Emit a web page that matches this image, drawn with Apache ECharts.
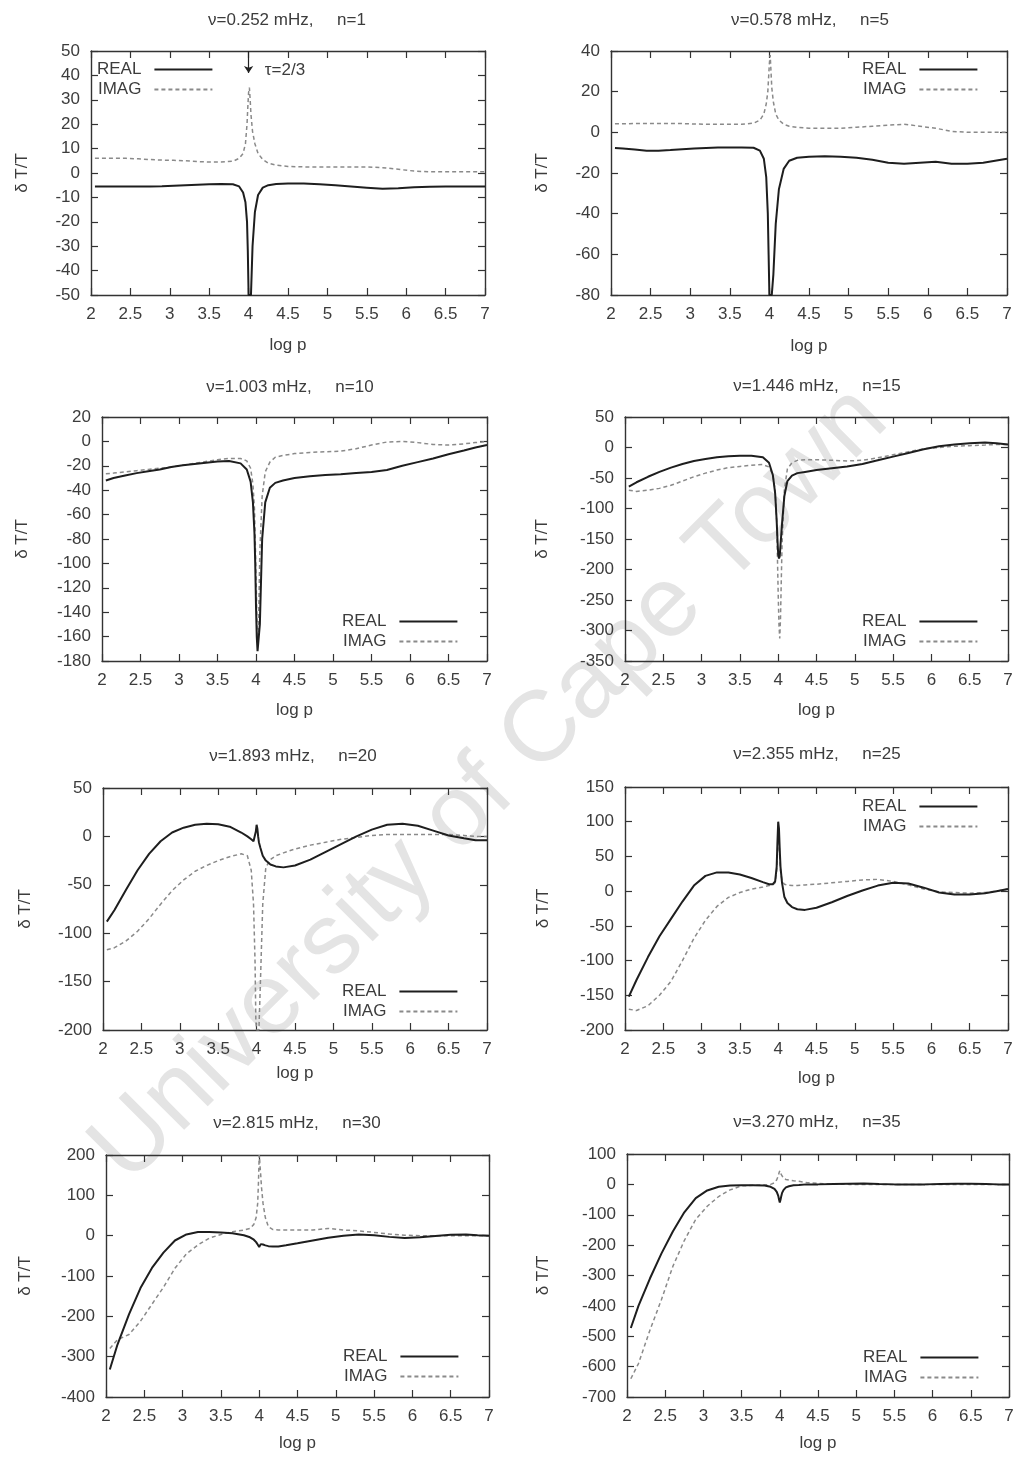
<!DOCTYPE html>
<html><head><meta charset="utf-8">
<script src="https://cdn.jsdelivr.net/npm/echarts@6/dist/echarts.min.js"></script>
<style>html,body{margin:0;padding:0;background:#fff}#c{width:1021px;height:1460px}</style>
</head><body><div id="c"></div>
<script>
// ---------------- DATA ----------------
const logP = [2.05, 2.15, 2.3, 2.45, 2.6, 2.75, 2.9, 3.05, 3.2, 3.35, 3.5, 3.65, 3.8, 3.88, 3.93, 3.96, 3.98, 3.99, 4.0, 4.01, 4.02, 4.03, 4.05, 4.08, 4.12, 4.18, 4.25, 4.35, 4.5, 4.7, 4.9, 5.1, 5.3, 5.5, 5.7, 5.9, 6.1, 6.3, 6.5, 6.7, 6.85, 7.0];

const real_n1 = [-5.5,-5.5,-5.5,-5.5,-5.5,-5.5,-5.4,-5.2,-5,-4.8,-4.6,-4.5,-4.6,-5.5,-8,-12,-20,-32,-50,-50,-50,-50,-30,-16,-9,-6,-5,-4.5,-4.3,-4.3,-4.6,-5,-5.5,-6,-6.5,-6.2,-5.8,-5.6,-5.5,-5.5,-5.5,-5.5];
const imag_n1 = [6,6,6,6,5.8,5.5,5.3,5.2,5,4.7,4.5,4.5,4.8,6,8,12,20,27,33,35,30,24,17,12,8,5.5,4,3.2,2.7,2.5,2.5,2.5,2.5,2.5,2.2,1.5,0.8,0.5,0.5,0.5,0.5,0.5];

const real_n5 = [-7.7,-8,-8.5,-9,-9,-8.7,-8.3,-8,-7.7,-7.5,-7.4,-7.4,-7.6,-9,-13,-22,-40,-60,-80,-80,-80,-80,-70,-45,-28,-18,-14,-12.5,-12,-11.8,-12,-12.5,-13.5,-15,-15.5,-15,-14.5,-15.5,-15.5,-15,-14,-13];
const imag_n5 = [4.2,4.2,4.3,4.3,4.4,4.4,4.3,4.1,4,4,4,4,4.5,6,9,14,20,27,34,38,30,22,15,9,6,4,3,2.5,2,2,2,2.5,3,3.5,4,3,2,0.5,0,0,0,0];

const real_n10 = [-32,-30,-28,-26,-24.5,-23,-21,-19.5,-18.5,-17.5,-16.5,-16,-18,-23,-33,-50,-75,-100,-135,-160,-172,-172,-150,-80,-50,-38,-34,-32,-30,-28.5,-27.5,-27,-26,-25,-23.5,-20,-17,-14,-10.5,-7.5,-5,-3];
const imag_n10 = [-26.5,-26,-25,-24,-23,-22,-21,-19.5,-18,-16.5,-15,-14,-14,-16,-22,-35,-55,-80,-110,-140,-165,-160,-90,-45,-25,-17,-13,-11.5,-10,-9,-8.5,-8,-6,-3,-0.5,0,-1,-2.5,-3,-2,-1,0];

const real_n15 = [-64,-57,-48,-40,-33,-27,-22,-19,-16,-14.5,-13.5,-13.5,-16,-25,-45,-75,-120,-150,-175,-182,-178,-160,-125,-80,-55,-46,-42,-40,-37,-34,-31,-27,-21,-15,-9,-3,2,5,7,8,7,5];
const imag_n15 = [-70,-72,-70,-67,-62,-55,-48,-42,-37,-33,-31,-29,-28,-32,-45,-70,-120,-180,-240,-290,-313,-280,-160,-70,-35,-25,-21,-20,-20,-21,-22,-21,-17,-12,-7,-2,0,2,3,4,5,5];

const real_n20 = [-88,-76,-55,-35,-18,-5,4,9,12,13,12.5,10,4,0,-3,-5,-3,5,12,8,0,-6,-12,-20,-25,-29,-31,-32,-30,-24,-16,-8,0,7,12,13,11,6,1,-2,-4,-4];
const imag_n20 = [-117,-115,-108,-98,-85,-70,-56,-45,-36,-30,-25,-21,-18,-20,-35,-70,-130,-190,-200,-200,-200,-200,-150,-70,-32,-24,-20,-17,-13,-9,-6,-3,-1,1,2,2,2,2,2,1,0,0];

const real_n25 = [-152,-128,-95,-65,-40,-15,8,22,27,27,24,19,13,10,10,14,35,70,100,90,60,35,12,-8,-17,-23,-26,-27,-24,-16,-7,1,8,12,11,5,-2,-5,-5,-3,0,3];
const imag_n25 = [-170,-172,-165,-150,-130,-100,-68,-42,-22,-9,-2,3,6,8,9,12,30,55,80,75,50,30,15,10,9,8,8,9,10,12,14,16,17,14,9,3,-1,-2,-3,-2,0,3];

const real_n30 = [-332,-270,-195,-130,-80,-42,-12,3,9,9,8,6,1,-4,-10,-16,-22,-26,-28,-24,-21,-21,-22,-24,-26,-27,-27,-24,-19,-12,-5,0,3,1,-3,-6,-4,-1,2,3,1,0];
const imag_n30 = [-280,-258,-245,-212,-170,-128,-81,-45,-23,-6,3,10,14,18,28,45,80,130,200,175,150,120,80,45,22,15,14,14,14,14,18,14,12,8,4,1,0,0,0,0,0,0];

const real_n35 = [-473,-400,-310,-228,-155,-92,-45,-20,-8,-4,-3,-3,-4,-8,-15,-25,-38,-50,-60,-50,-38,-28,-18,-10,-6,-3,-2,0,0,1,2,3,1,0,0,0,1,2,2,1,0,0];
const imag_n35 = [-640,-590,-480,-380,-270,-185,-115,-72,-40,-18,-5,-3,-2,0,5,15,28,38,45,40,32,26,20,16,14,12,10,6,3,1,0,0,0,0,0,0,0,0,0,0,0,0];

const titles = ['ν=0.252 mHz,     n=1', 'ν=0.578 mHz,     n=5', 'ν=1.003 mHz,     n=10', 'ν=1.446 mHz,     n=15',
                'ν=1.893 mHz,     n=20', 'ν=2.355 mHz,     n=25', 'ν=2.815 mHz,     n=30', 'ν=3.270 mHz,     n=35'];
const realSets = [real_n1, real_n5, real_n10, real_n15, real_n20, real_n25, real_n30, real_n35];
const imagSets = [imag_n1, imag_n5, imag_n10, imag_n15, imag_n20, imag_n25, imag_n30, imag_n35];
const yMin = [-50, -80, -180, -350, -200, -200, -400, -700];
const yMax = [50, 40, 20, 50, 50, 150, 200, 100];
const yStep = [10, 20, 20, 50, 50, 50, 100, 100];
const xMin = 2, xMax = 7, xStep = 0.5;
const seriesNames = ['REAL', 'IMAG'];
const xName = 'log p', yName = 'δ T/T';
const annotText = 'τ=2/3';
const watermark = 'University of Cape Town';

// ---------------- LAYOUT ----------------
const FONT = '"Liberation Sans", Arial, Helvetica, sans-serif';
const TXT = '#3c3c3c';
const layout = [
  {g:[91,51,394,244],  ty:21,  tx:287, xl:347,  yl:22,  lg:[97,61]},
  {g:[611,51,396,244], ty:21,  tx:810, xl:348,  yl:542, lg:[862,61]},
  {g:[102,417,385,244],ty:388, tx:290, xl:712,  yl:22,  lg:[342,613]},
  {g:[625,417,383,244],ty:387, tx:817, xl:712,  yl:542, lg:[862,613]},
  {g:[103,788,384,242],ty:757, tx:293, xl:1075, yl:25,  lg:[342,983]},
  {g:[625,787,383,243],ty:755, tx:817, xl:1080, yl:543, lg:[862,798]},
  {g:[106,1155,383,242],ty:1124,tx:297,xl:1445, yl:25,  lg:[343,1348]},
  {g:[627,1154,382,243],ty:1123,tx:817,xl:1445, yl:543, lg:[863,1349]}
];

const grid = [], xAxis = [], yAxis = [], series = [], title = [], legend = [];
const axisLine = {show:true, onZero:false, lineStyle:{color:'#333', width:1.4}};
const tick = {show:true, inside:true, length:7, lineStyle:{color:'#333', width:1.2}};
layout.forEach((L, i) => {
  grid.push({left:L.g[0], top:L.g[1], width:L.g[2], height:L.g[3], containLabel:false});
  const bottom = L.g[1] + L.g[3];
  xAxis.push({type:'value', gridIndex:i, min:xMin, max:xMax, interval:xStep, position:'bottom',
    axisLine, axisTick:tick, splitLine:{show:false},
    axisLabel:{color:TXT, fontSize:17, fontFamily:FONT, margin:11},
    name:xName, nameLocation:'middle', nameGap:L.xl - bottom - 10,
    nameTextStyle:{color:TXT, fontSize:17, fontFamily:FONT}});
  xAxis.push({type:'value', gridIndex:i, min:xMin, max:xMax, interval:xStep, position:'top',
    axisLine, axisTick:tick, axisLabel:{show:false}, splitLine:{show:false}});
  yAxis.push({type:'value', gridIndex:i, min:yMin[i], max:yMax[i], interval:yStep[i], position:'left',
    axisLine, axisTick:tick, splitLine:{show:false},
    axisLabel:{color:TXT, fontSize:17, fontFamily:FONT, margin:11},
    name:yName, nameLocation:'middle', nameRotate:90, nameGap:L.g[0] - L.yl - 9,
    nameTextStyle:{color:TXT, fontSize:17, fontFamily:FONT}});
  yAxis.push({type:'value', gridIndex:i, min:yMin[i], max:yMax[i], interval:yStep[i], position:'right',
    axisLine, axisTick:tick, axisLabel:{show:false}, splitLine:{show:false}});
  title.push({text:titles[i], left:L.tx, top:L.ty - 9, textAlign:'center', padding:0,
    textStyle:{color:TXT, fontSize:17, fontWeight:'normal', fontFamily:FONT}});
  legend.push({orient:'vertical', left:L.lg[0], top:L.lg[1], align:'right', itemWidth:58, itemHeight:14,
    itemGap:3, padding:0, selectedMode:false, data:seriesNames,
    itemStyle:{opacity:0},
    textStyle:{color:TXT, fontSize:17, fontFamily:FONT, padding:[0,8,0,0]}});
  const re = {name:seriesNames[0], type:'line', xAxisIndex:2*i, yAxisIndex:2*i, symbol:'none', smooth:false,
    clip:true, z:3, lineStyle:{color:'#1e1e1e', width:2}, itemStyle:{color:'#1e1e1e'},
    data:logP.map((x, j) => [x, realSets[i][j]])};
  const im = {name:seriesNames[1], type:'line', xAxisIndex:2*i, yAxisIndex:2*i, symbol:'none', smooth:false,
    clip:true, z:2, lineStyle:{color:'#8a8a8a', width:1.5, type:[4,3]}, itemStyle:{color:'#8a8a8a'},
    data:logP.map((x, j) => [x, imagSets[i][j]])};
  if (i === 0) {
    re.markLine = {silent:true, symbol:['none','arrow'], symbolSize:7, animation:false,
      lineStyle:{color:'#222', type:'solid', width:1.2}, label:{show:false},
      data:[[{coord:[4, 50]}, {coord:[4, 41]}]]};
    re.markPoint = {silent:true, symbol:'rect', symbolSize:1, itemStyle:{color:'rgba(0,0,0,0)'}, animation:false,
      label:{show:true, position:'right', distance:0, formatter:annotText, color:TXT, fontSize:17, fontFamily:FONT},
      data:[{coord:[4.2, 42]}]};
  }
  series.push(re, im);
});

const chart = echarts.init(document.getElementById('c'), null, {renderer:'canvas'});
chart.setOption({
  backgroundColor:'#ffffff',
  animation:false,
  title, legend, grid, xAxis, yAxis, series,
  graphic:{elements:[{type:'text', x:490, y:785, rotation:Math.PI/4, z:-10, silent:true,
    style:{text:watermark, fill:'#e4e4e4', font:'100px ' + FONT, textAlign:'center', textVerticalAlign:'middle'}}]}
});
</script>
</body></html>
